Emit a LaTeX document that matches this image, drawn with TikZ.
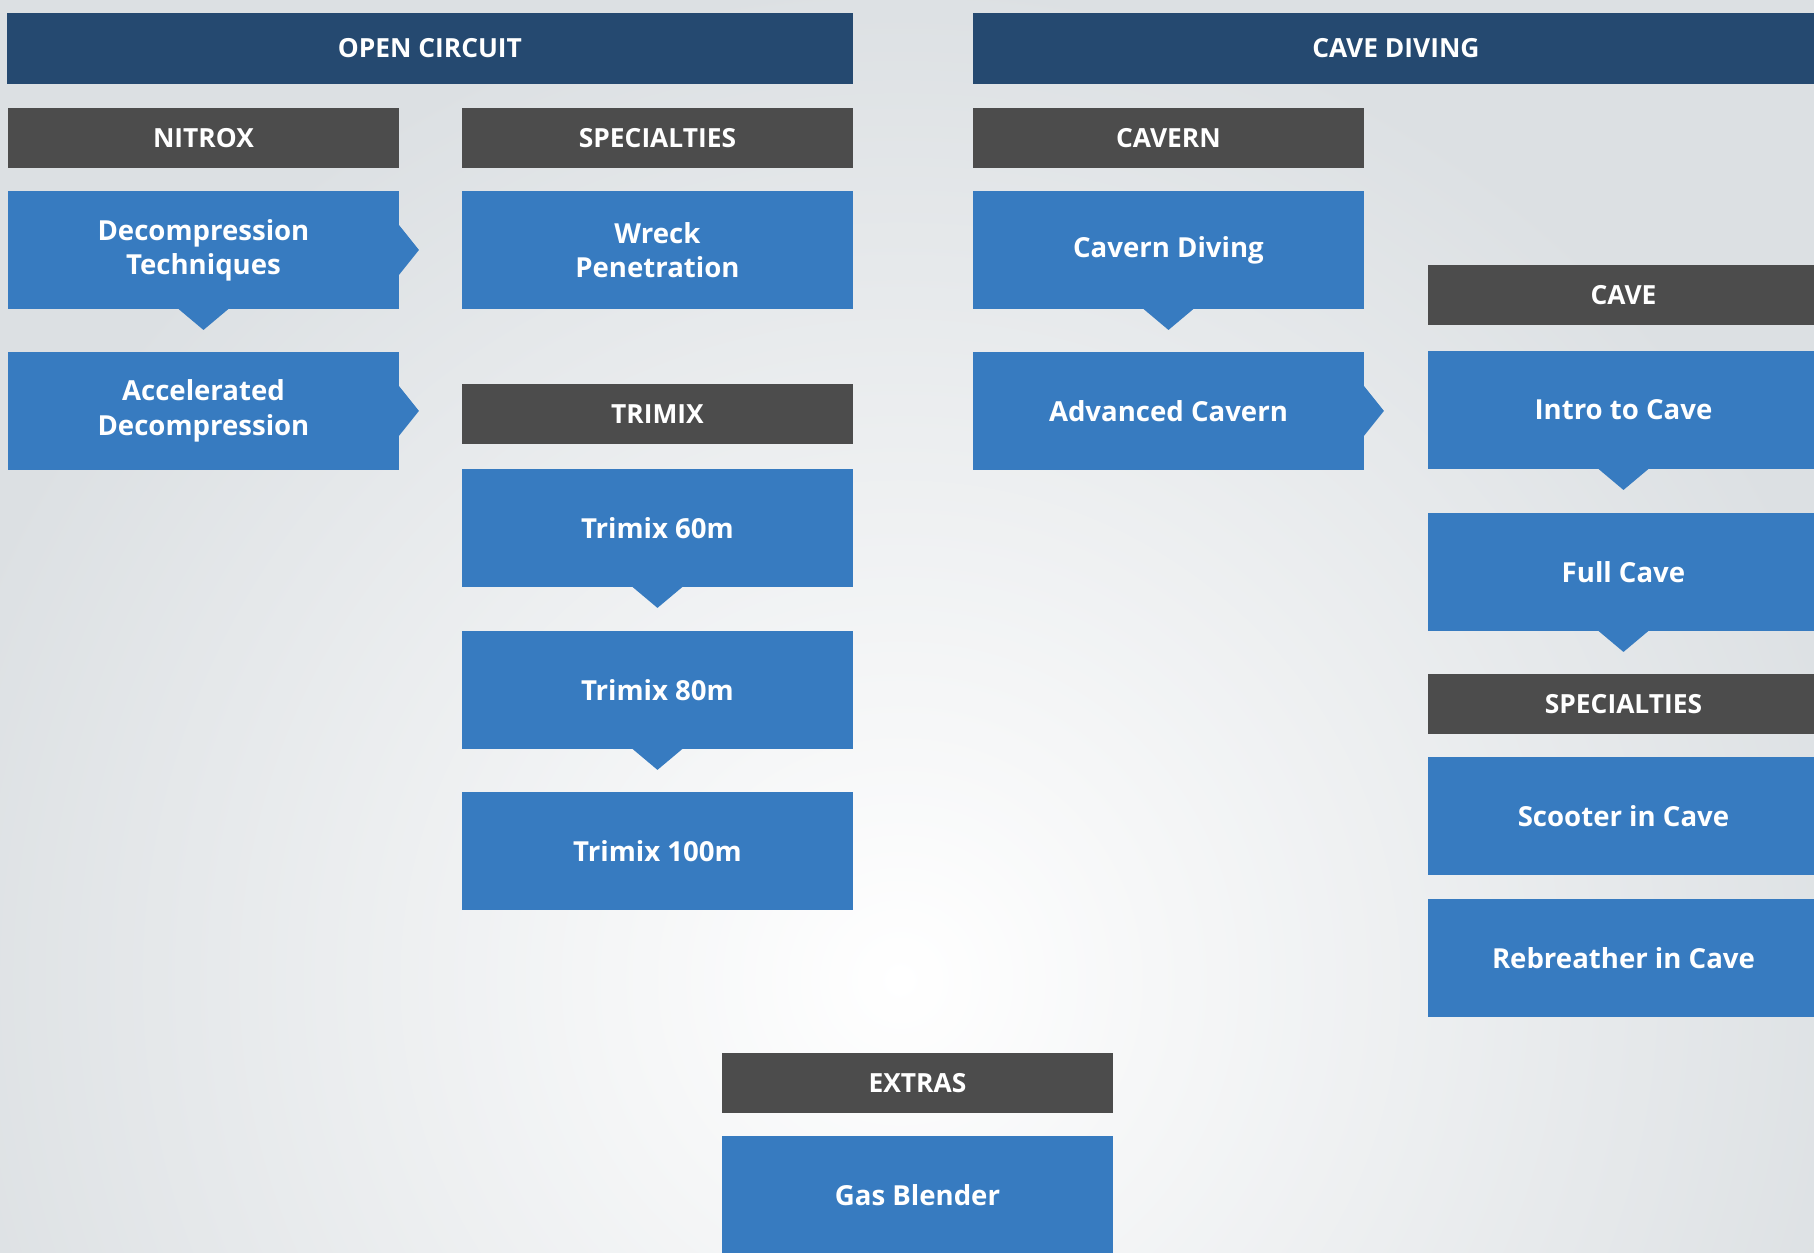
\documentclass[tikz,border=0pt]{standalone}
\usepackage{fontspec}
\setmainfont{Open Sans}
\usepackage{tikz}
\usetikzlibrary{calc,positioning}
\definecolor{navy}{HTML}{254970}
\definecolor{slate}{HTML}{4C4C4C}
\definecolor{course}{HTML}{377BC0}
\definecolor{bggray}{HTML}{DCE0E3}
\tikzstyle{banner} = [rectangle, fill=navy, text=white, font=\bfseries\fontsize{15}{18}\selectfont,
    minimum width=16.92cm, minimum height=1.42cm, inner sep=0pt, outer sep=0pt]
\tikzstyle{group} = [rectangle, fill=slate, text=white, font=\bfseries\fontsize{15}{18}\selectfont,
    minimum width=7.82cm, minimum height=1.2cm, inner sep=0pt, outer sep=0pt]
\tikzset{
  course/.style={
    rectangle,
    fill=course,
    text=white,
    font=\bfseries\fontsize{15.7}{19.5}\selectfont,
    align=center,
    minimum width=7.82cm,
    minimum height=2.36cm,
    inner sep=0pt, outer sep=0pt},
  notch/.style={fill=course},
}
\newcommand{\downnotch}[1]{\fill[notch] ($(#1.south)+(-25,0)$) -- ($(#1.south)+(0,-21)$) -- ($(#1.south)+(25,0)$) -- cycle;}
\newcommand{\rightnotch}[1]{\fill[notch] ($(#1.east)+(0,25)$) -- ($(#1.east)+(20,0)$) -- ($(#1.east)+(0,-25)$) -- cycle;}
\begin{document}
\begin{tikzpicture}[x=0.02cm, y=0.02cm]
    \useasboundingbox (0,0) rectangle (1814,-1253);
    % Background
    \fill[bggray] (0,0) rectangle (1814,-1253);
    \begin{scope}
      \clip (0,0) rectangle (1814,-1253);
      \shade[inner color=white, outer color=bggray] (900,-980) circle (1000);
    \end{scope}
    % Place nodes
    \node [banner, anchor=north west] at (7,-13) (openCircuit) {OPEN CIRCUIT};
    \node [banner, anchor=north west] at (973,-13) (caveDiving) {CAVE DIVING};
    \node [group, anchor=north west] at (8,-108) (nitrox) {NITROX};
    \node [course, below=0.46cm of nitrox] (decoTech) {Decompression\\Techniques};
    \node [course, below=0.86cm of decoTech] (accelDeco) {Accelerated\\Decompression};
    \node [group, anchor=north west] at (462,-108) (specOC) {SPECIALTIES};
    \node [course, below=0.46cm of specOC] (wreck) {Wreck\\Penetration};
    \node [group, below=1.5cm of wreck] (trimix) {TRIMIX};
    \node [course, below=0.5cm of trimix] (trimixSixty) {Trimix 60m};
    \node [course, below=0.88cm of trimixSixty] (trimixEighty) {Trimix 80m};
    \node [course, below=0.86cm of trimixEighty] (trimixHundred) {Trimix 100m};
    \node [group, anchor=north west] at (973,-108) (cavern) {CAVERN};
    \node [course, below=0.46cm of cavern] (cavernDiving) {Cavern Diving};
    \node [course, below=0.86cm of cavernDiving] (advCavern) {Advanced Cavern};
    \node [group, anchor=north west] at (1428,-265) (cave) {CAVE};
    \node [course, below=0.52cm of cave] (introCave) {Intro to Cave};
    \node [course, below=0.88cm of introCave] (fullCave) {Full Cave};
    \node [group, below=0.86cm of fullCave] (specCave) {SPECIALTIES};
    \node [course, below=0.46cm of specCave] (scooter) {Scooter in Cave};
    \node [course, below=0.48cm of scooter] (rebreather) {Rebreather in Cave};
    \node [group, anchor=north west] at (722,-1053) (extras) {EXTRAS};
    \node [course, below=0.46cm of extras] (gasBlender) {Gas Blender};
    % Draw notches
    \downnotch{decoTech}
    \rightnotch{decoTech}
    \rightnotch{accelDeco}
    \downnotch{trimixSixty}
    \downnotch{trimixEighty}
    \downnotch{cavernDiving}
    \rightnotch{advCavern}
    \downnotch{introCave}
    \downnotch{fullCave}
\end{tikzpicture}
\end{document}
